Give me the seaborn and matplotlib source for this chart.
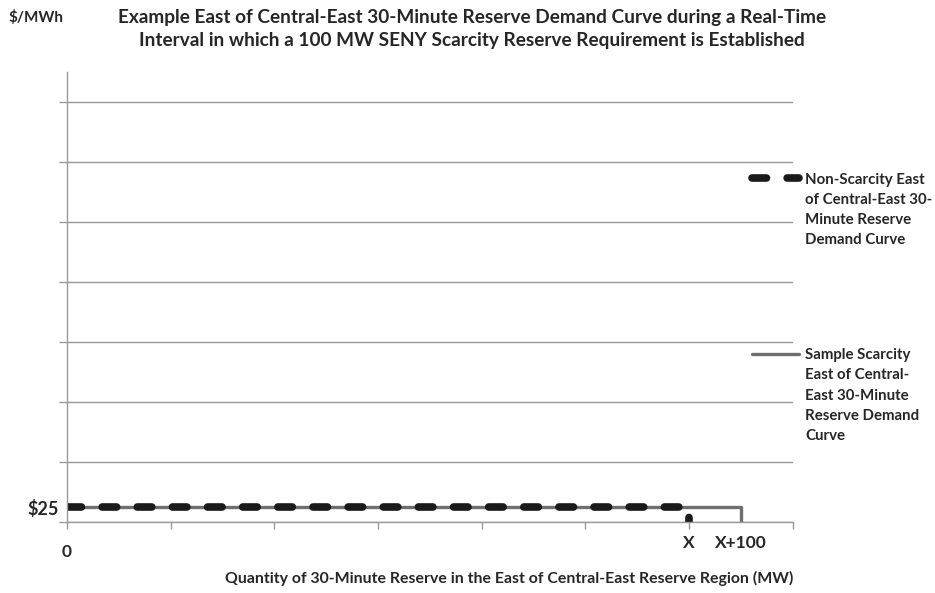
import numpy as np
import pandas as pd
import matplotlib
matplotlib.use("Agg")
import matplotlib.pyplot as plt
import seaborn as sns

# quantity in MW (X placed at 1200), price in $/MWh
x_ticks = [0, 200, 400, 600, 800, 1000, 1200, 1400]
y_ticks = [0, 100, 200, 300, 400, 500, 600, 700]
X = 1200
non_scarcity_q = [0, X, X]
non_scarcity_p = [25, 25, 0]
scarcity_q = [0, X + 100, X + 100]
scarcity_p = [25, 25, 0]

lbl_non = "Non-Scarcity East\nof Central-East 30-\nMinute Reserve\nDemand Curve"
lbl_sc = "Sample Scarcity\nEast of Central-\nEast 30-Minute\nReserve Demand\nCurve"


def main():
    sns.set_style("white")
    plt.rcParams['font.family'] = ['Lato', 'DejaVu Sans']
    plt.rcParams['font.weight'] = 'bold'

    fig = plt.figure(figsize=(9.35, 5.93), dpi=100)
    ax = fig.add_axes([0.0717, 0.1197, 0.848 - 0.0717, 0.8786 - 0.1197])

    df_sc = pd.DataFrame({"q": scarcity_q, "p": scarcity_p})
    df_non = pd.DataFrame({"q": non_scarcity_q, "p": non_scarcity_p})
    sns.lineplot(data=df_sc, x="q", y="p", sort=False, estimator=None, ax=ax,
                 color="#6f6f6f", linewidth=2.4, label=lbl_sc)
    sns.lineplot(data=df_non, x="q", y="p", sort=False, estimator=None, ax=ax,
                 color="#1a1a1a", linewidth=5.5, label=lbl_non)
    ln_non = ax.lines[-1]
    ln_non.set_dashes((1.9, 2.7))
    ln_non.set_dash_capstyle("round")

    ax.set_xlim(0, 1400)
    ax.set_ylim(0, 750)
    ax.xaxis.remove_overlapping_locs = False
    ax.set_xticks(x_ticks)
    ax.set_xticklabels(["0"] + [""] * 7)
    ax.set_xticks([X, X + 100], minor=True)
    ax.set_xticklabels(["X", "X+100"], minor=True)
    ax.set_yticks(y_ticks)
    ax.set_yticklabels([""] * 8)
    ax.set_yticks([25], minor=True)
    ax.set_yticklabels(["$25"], minor=True)

    ax.tick_params(axis="x", which="major", length=5, width=1, color="#999999",
                   direction="out", pad=11, labelsize=12.5)
    ax.tick_params(axis="x", which="minor", length=0, pad=9, labelsize=12.5)
    ax.tick_params(axis="y", which="major", length=6, width=1, color="#999999",
                   direction="out")
    ax.tick_params(axis="y", which="minor", length=0, pad=6, labelsize=13)
    ax.xaxis.set_ticks_position("bottom")
    ax.yaxis.set_ticks_position("left")

    ax.grid(axis="y", which="major", color="#999999", linewidth=1)
    ax.set_axisbelow(True)
    for s in ["top", "right"]:
        ax.spines[s].set_visible(False)
    for s in ["left", "bottom"]:
        ax.spines[s].set_color("#999999")
        ax.spines[s].set_linewidth(1)

    ax.set_xlabel("")
    ax.set_ylabel("")

    handles, labels = ax.get_legend_handles_labels()
    leg = ax.legend([handles[1], handles[0]], [labels[1], labels[0]],
                    loc="upper left", bbox_to_anchor=(752 / 935, 1 - 173 / 593),
                    bbox_transform=fig.transFigure, frameon=False, borderpad=0,
                    borderaxespad=0, handlelength=3.1, handletextpad=0.45,
                    labelspacing=6.75, fontsize=10.8)
    for t in leg.get_texts():
        t.set_linespacing(1.55)
    for col in leg._legend_handle_box.get_children():
        for hp in col.get_children():
            hp.align = "top"

    fig.text(472 / 935, 1 - 9 / 593,
             "Example East of Central-East 30-Minute Reserve Demand Curve during a Real-Time\n"
             "Interval in which a 100 MW SENY Scarcity Reserve Requirement is Established",
             ha="center", va="top", fontsize=13.7, fontweight="bold", linespacing=1.45)
    fig.text(8 / 935, 1 - 18 / 593, "$/MWh", ha="left", va="center",
             fontsize=11, fontweight="bold")
    fig.text(509 / 935, 1 - 578 / 593,
             "Quantity of 30-Minute Reserve in the East of Central-East Reserve Region (MW)",
             ha="center", va="center", fontsize=11.4, fontweight="bold")

    fig.savefig("out.png", dpi=100)


if __name__ == "__main__":
    main()
